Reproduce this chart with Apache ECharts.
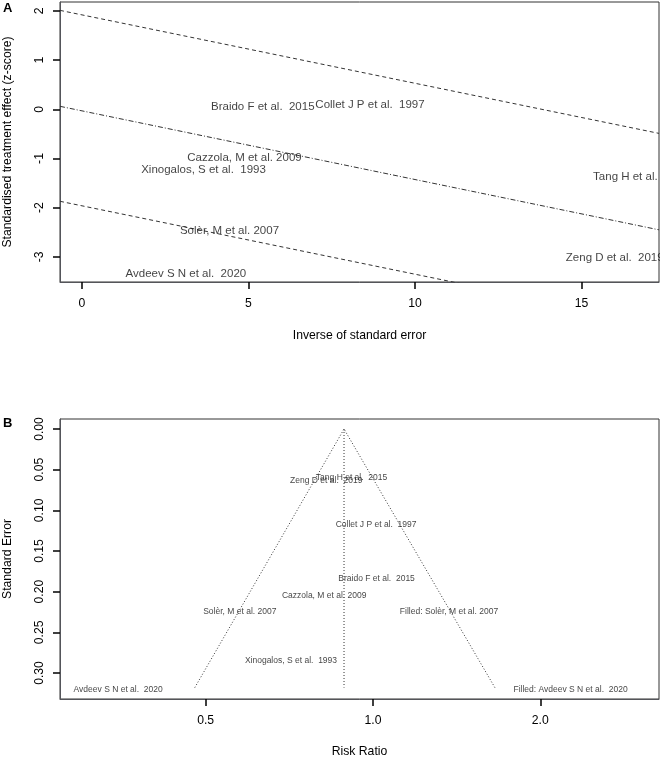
<!DOCTYPE html>
<html>
<head>
<meta charset="utf-8">
<script src="https://cdn.jsdelivr.net/npm/echarts@6/dist/echarts.min.js"></script>
<style>
html,body{margin:0;padding:0;background:#fff;}
#chart{width:662px;height:760px;}
</style>
</head>
<body>
<div id="chart"></div>
<script>
// ---------- Panel A: radial (Galbraith) plot ----------
const radialStudies = ["Braido F et al.  2015", "Collet J P et al.  1997", "Cazzola, M et al. 2009", "Xinogalos, S et al.  1993", "Tang H et al.  2015", "Solèr, M et al. 2007", "Avdeev S N et al.  2020", "Zeng D et al.  2019"];
const radialPrecision = [5.43, 8.65, 4.88, 3.65, 16.8, 4.43, 3.12, 16.0];
const radialZ = [0.04, 0.10, -0.98, -1.24, -1.37, -2.47, -3.34, -3.01];
const radialLineX = [-0.66, 17.33];
const radialUpper = [2.01, -0.49];
const radialMid = [0.06, -2.45];
const radialLower = [-1.87, -4.37];
const radialXTicks = [0, 5, 10, 15];
const radialYTicks = [-3, -2, -1, 0, 1, 2];

// ---------- Panel B: funnel plot ----------
const funnelStudies = ["Avdeev S N et al.  2020", "Filled: Avdeev S N et al.  2020", "Solèr, M et al. 2007", "Filled: Solèr, M et al. 2007", "Cazzola, M et al. 2009", "Xinogalos, S et al.  1993", "Braido F et al.  2015", "Collet J P et al.  1997", "Tang H et al.  2015", "Zeng D et al.  2019"];
const funnelRR = [0.348, 2.267, 0.576, 1.370, 0.817, 0.712, 1.015, 1.013, 0.915, 0.824];
const funnelSE = [0.321, 0.321, 0.225, 0.225, 0.205, 0.285, 0.184, 0.118, 0.060, 0.0635];
const funnelCenterRR = 0.887;
const funnelLowerRR = 0.478;
const funnelUpperRR = 1.657;
const funnelMaxSE = 0.318;
const funnelXTicks = [0.5, 1.0, 2.0];
const funnelYTicks = [0, 0.05, 0.10, 0.15, 0.20, 0.25, 0.30];

const TXT = '#000';
const FONT = 'Liberation Sans, Arial, sans-serif';
const LINE = '#333';
const TICK = '#000';

const chart = echarts.init(document.getElementById('chart'));

function labelSeries(xi, yi, xs, ys, names, size) {
  return {
    type: 'scatter', xAxisIndex: xi, yAxisIndex: yi,
    symbol: 'circle', symbolSize: 1,
    itemStyle: {color: 'transparent'},
    silent: true,
    data: xs.map((x, i) => [x, ys[i], names[i]]),
    label: {
      show: true, position: 'inside',
      formatter: p => p.data[2],
      color: '#111', fontSize: size, fontFamily: FONT,
      textBorderWidth: 0
    },
    z: 5
  };
}

function line2(xi, yi, pts, type) {
  return {
    type: 'line', xAxisIndex: xi, yAxisIndex: yi,
    data: pts, symbol: 'none', silent: true, clip: true,
    lineStyle: {color: LINE, width: 1, type: type}
  };
}

function tick(vals) {
  return {show: true, length: 7, lineStyle: {color: TICK, width: 1.5}, customValues: vals};
}

const option = {
  animation: false,
  grid: [
    {left: 60, top: 2, width: 599, height: 280, show: true, borderColor: LINE, borderWidth: 1, outerBoundsMode: 'none'},
    {left: 60, top: 419, width: 599, height: 280, show: true, borderColor: LINE, borderWidth: 1, outerBoundsMode: 'none'}
  ],
  xAxis: [
    {
      gridIndex: 0, type: 'value', min: radialLineX[0], max: radialLineX[1],
      axisLine: {show: true, onZero: false}, splitLine: {show: false},
      name: 'Inverse of standard error', nameLocation: 'middle', nameGap: 48,
      nameTextStyle: {color: TXT, fontSize: 12.2, fontFamily: FONT},
      axisTick: tick(radialXTicks),
      axisLabel: {customValues: radialXTicks, margin: 16, color: TXT, fontSize: 12.2, fontFamily: FONT}
    },
    {
      gridIndex: 1, type: 'log', logBase: 10, min: 0.2735, max: 3.27,
      axisLine: {show: true, onZero: false}, splitLine: {show: false},
      name: 'Risk Ratio', nameLocation: 'middle', nameGap: 47,
      nameTextStyle: {color: TXT, fontSize: 12.2, fontFamily: FONT},
      axisTick: tick(funnelXTicks),
      axisLabel: {customValues: funnelXTicks, margin: 16, color: TXT, fontSize: 12.2, fontFamily: FONT,
        formatter: v => Number(v).toFixed(1)}
    }
  ],
  yAxis: [
    {
      gridIndex: 0, type: 'value', min: -3.51, max: 2.18,
      axisLine: {show: true, onZero: false}, splitLine: {show: false},
      name: 'Standardised treatment effect (z-score)', nameLocation: 'middle', nameGap: 46,
      nameTextStyle: {color: TXT, fontSize: 12.2, fontFamily: FONT},
      axisTick: tick(radialYTicks),
      axisLabel: {customValues: radialYTicks, rotate: 90, margin: 14, color: TXT, fontSize: 12.2, fontFamily: FONT}
    },
    {
      gridIndex: 1, type: 'value', min: -0.0123, max: 0.332, inverse: true,
      axisLine: {show: true, onZero: false}, splitLine: {show: false},
      name: 'Standard Error', nameLocation: 'middle', nameGap: 46,
      nameTextStyle: {color: TXT, fontSize: 12.2, fontFamily: FONT},
      axisTick: tick(funnelYTicks),
      axisLabel: {customValues: funnelYTicks, rotate: 90, margin: 14, color: TXT, fontSize: 12.2, fontFamily: FONT,
        formatter: v => Number(v).toFixed(2)}
    }
  ],
  series: [
    line2(0, 0, radialLineX.map((x, i) => [x, radialUpper[i]]), [4, 3]),
    line2(0, 0, radialLineX.map((x, i) => [x, radialMid[i]]), [5, 2, 1, 2]),
    line2(0, 0, radialLineX.map((x, i) => [x, radialLower[i]]), [4, 3]),
    labelSeries(0, 0, radialPrecision, radialZ, radialStudies, 11.5),
    line2(1, 1, [[funnelLowerRR, funnelMaxSE], [funnelCenterRR, 0], [funnelUpperRR, funnelMaxSE]], [1, 2]),
    line2(1, 1, [[funnelCenterRR, 0], [funnelCenterRR, funnelMaxSE]], [1, 2]),
    labelSeries(1, 1, funnelRR, funnelSE, funnelStudies, 8.5)
  ],
  graphic: [
    {type: 'rect', shape: {x: 660, y: 0, width: 20, height: 300}, style: {fill: '#fff'}, z: 100, silent: true},
    {type: 'text', left: 3, top: 2, style: {text: 'A', font: 'bold 13px ' + FONT, fill: '#000'}, z: 101},
    {type: 'text', left: 3, top: 417, style: {text: 'B', font: 'bold 13px ' + FONT, fill: '#000'}, z: 101}
  ]
};
chart.setOption(option);
</script>
</body>
</html>
